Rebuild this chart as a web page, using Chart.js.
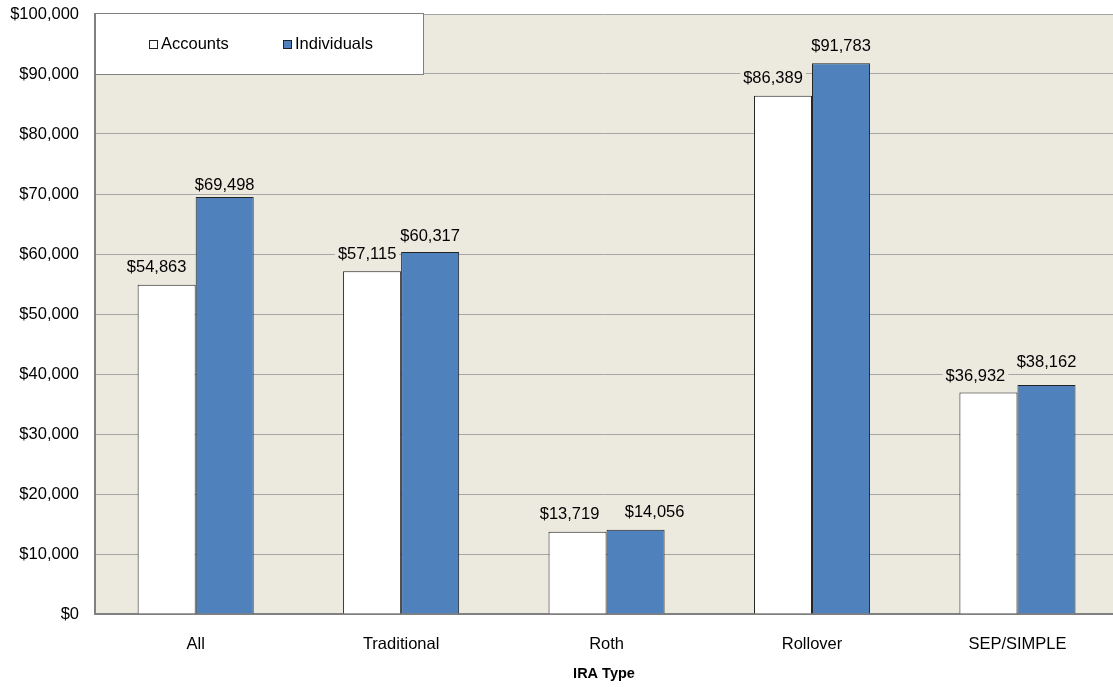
<!DOCTYPE html>
<html>
<head>
<meta charset="utf-8">
<script src="https://cdn.jsdelivr.net/npm/chart.js@4.4.1/dist/chart.umd.min.js"></script>
<style>
  html, body { margin: 0; padding: 0; background: #fff; }
  #wrap { width: 1113px; height: 687px; position: relative; }
</style>
</head>
<body>
<div id="wrap"><canvas id="chart"></canvas></div>
<script>
    "use strict";

    const categories = ["All", "Traditional", "Roth", "Rollover", "SEP/SIMPLE"];
    const accounts = [54863, 57115, 13719, 86389, 36932];
    const individuals = [69498, 60317, 14056, 91783, 38162];
    const seriesNames = ["Accounts", "Individuals"];
    const yTicks = [0, 10000, 20000, 30000, 40000, 50000, 60000, 70000, 80000, 90000, 100000];

    const FONT = "'Liberation Sans', Arial, sans-serif";
    const FS = 16.5;
    const COLORS = { accounts: "#ffffff", individuals: "#4f81bd", plotBg: "#ece9df", grid: "#a6a6a6", axis: "#808080" };

    // hand-placed label nudges in the original (dataset-index: [dx, dy])
    const LABEL_NUDGE = {
        "0-0": [-10, 0], "0-1": [-5, 0], "0-2": [-8, 0], "0-3": [-10, 0], "0-4": [-13, 1],
        "1-0": [0, 5], "1-1": [0, 1], "1-2": [19, 0], "1-3": [0, 0], "1-4": [0, -6]
    };

    const money = v => "$" + v.toLocaleString("en-US");

    /* ---------------- Plot background ---------------- */
    const plotBg = {
        id: "plotBg",
        beforeDraw(chart) {
            const { ctx, chartArea: a } = chart;
            ctx.save();
            ctx.fillStyle = COLORS.plotBg;
            ctx.fillRect(a.left, a.top, a.right - a.left, a.bottom - a.top);
            ctx.restore();
        }
    };

    /* ---------------- Value labels with backing ---------------- */
    const valueLabels = {
        id: "valueLabels",
        afterDatasetsDraw(chart) {
            const { ctx } = chart;
            ctx.save();
            ctx.font = FS + "px " + FONT;
            ctx.textAlign = "center";
            ctx.textBaseline = "middle";
            chart.data.datasets.forEach((ds, i) => {
                chart.getDatasetMeta(i).data.forEach((bar, j) => {
                    const txt = money(ds.data[j]);
                    const w = ctx.measureText(txt).width;
                    const [dx, dy] = LABEL_NUDGE[i + "-" + j] || [0, 0];
                    const x = bar.x + dx;
                    const y = bar.y - 17 + dy;
                    ctx.fillStyle = COLORS.plotBg;
                    ctx.fillRect(x - w / 2 - 3, y - 9, w + 6, 18);
                    ctx.fillStyle = "#000";
                    ctx.fillText(txt, x, y);
                });
            });
            ctx.restore();
        }
    };

    /* ---------------- Legend box inside plot ---------------- */
    const boxLegend = {
        id: "boxLegend",
        afterDraw(chart) {
            const { ctx, chartArea: a } = chart;
            const x = a.left, y = a.top - 1, w = 328, h = 61;
            ctx.save();
            ctx.fillStyle = "#fff";
            ctx.fillRect(x, y, w, h);
            ctx.strokeStyle = "#808080";
            ctx.lineWidth = 1;
            ctx.strokeRect(x + 0.5, y + 0.5, w, h);
            ctx.font = FS + "px " + FONT;
            ctx.textBaseline = "middle";
            const items = [
                { label: seriesNames[0], color: COLORS.accounts, lx: x + 54 },
                { label: seriesNames[1], color: COLORS.individuals, lx: x + 188 }
            ];
            items.forEach(it => {
                ctx.fillStyle = it.color;
                ctx.fillRect(it.lx, y + 27, 9, 9);
                ctx.strokeStyle = "#222";
                ctx.strokeRect(it.lx + 0.5, y + 27.5, 8, 8);
                ctx.fillStyle = "#000";
                ctx.textAlign = "left";
                ctx.fillText(it.label, it.lx + 12, y + 31);
            });
            ctx.restore();
        }
    };

    new Chart(document.getElementById("chart").getContext("2d"), {
        type: "bar",
        data: {
            labels: categories,
            datasets: [
                { label: seriesNames[0], data: accounts, backgroundColor: COLORS.accounts, borderColor: "#222", borderWidth: 1 },
                { label: seriesNames[1], data: individuals, backgroundColor: COLORS.individuals, borderColor: "#222", borderWidth: 1 }
            ]
        },
        options: {
            responsive: true,
            maintainAspectRatio: false,
            animation: false,
            layout: { padding: { top: 14, right: 0, left: 7, bottom: 0 } },
            datasets: { bar: { categoryPercentage: 0.565, barPercentage: 1 } },
            plugins: {
                legend: { display: false },
                tooltip: { enabled: false }
            },
            scales: {
                x: {
                    grid: { display: false, drawTicks: false },
                    border: { color: COLORS.axis, width: 2 },
                    ticks: { color: "#000", font: { family: FONT, size: FS }, padding: 21 },
                    title: { display: true, text: "IRA Type", color: "#000", font: { family: FONT, size: 14.5, weight: "bold" }, padding: { top: 0, bottom: 4 } },
                    afterFit: axis => { axis.height = 73; axis.paddingLeft = 0; axis.paddingRight = 0; },
                    // original plot is cropped on the right: the last category runs past the edge
                    afterBuildTicks: axis => { axis._startValue = -0.49; axis._valueRange = 4.955; }
                },
                y: {
                    min: 0,
                    max: 100000,
                    afterBuildTicks: axis => { axis.ticks = yTicks.map(v => ({ value: v })); },
                    grid: { color: COLORS.grid, lineWidth: 1, drawTicks: false },
                    border: { color: COLORS.axis, width: 2 },
                    ticks: { color: "#000", font: { family: FONT, size: FS }, padding: 16, callback: v => money(v) },
                    afterFit: axis => { axis.width = 88; axis.paddingTop = 0; axis.paddingBottom = 0; }
                }
            }
        },
        plugins: [plotBg, valueLabels, boxLegend]
    });
</script>
</body>
</html>
